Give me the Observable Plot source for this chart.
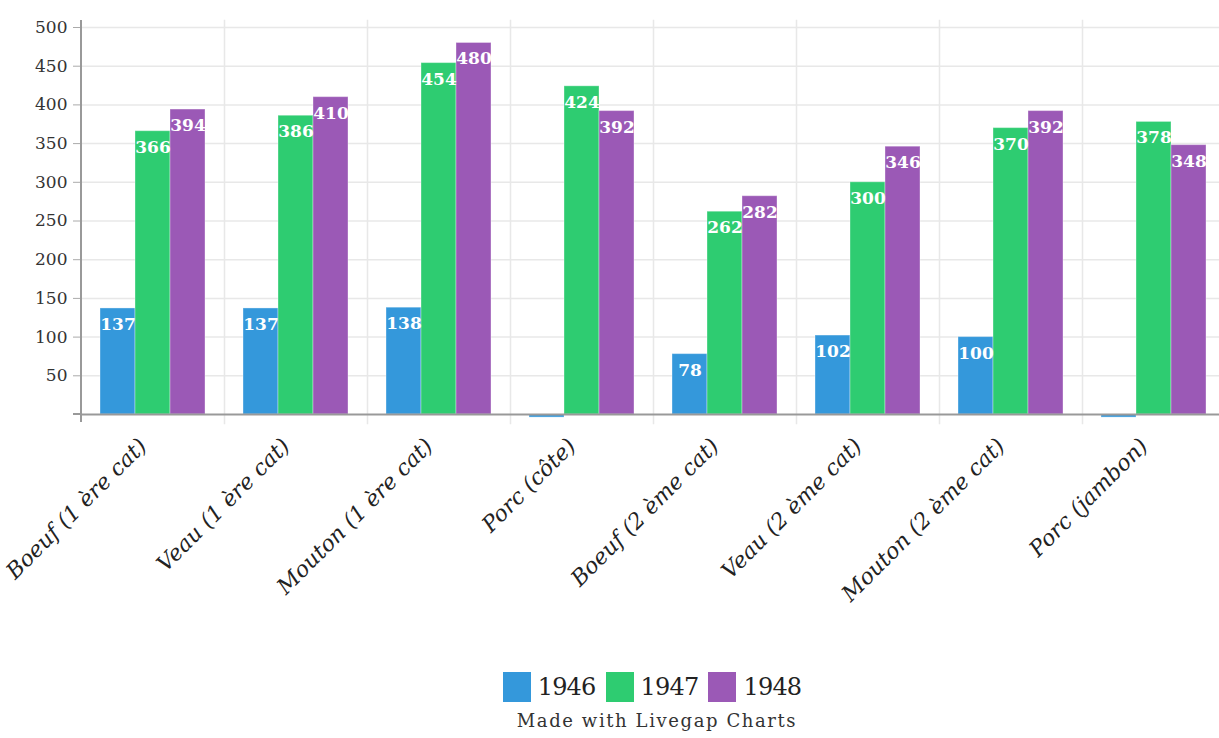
<!DOCTYPE html>
<html>
<head>
<meta charset="utf-8">
<script src="https://cdn.jsdelivr.net/npm/d3@7"></script>
<script src="https://cdn.jsdelivr.net/npm/@observablehq/plot@0.6"></script>
<style>
  body { margin: 0; background: #fff; font-family: "DejaVu Serif", serif; overflow: hidden; }
  #chart { width: 1219px; overflow: hidden; }
  .legend { display: flex; justify-content: center; align-items: center; padding-left: 95px; margin-top: 22px; gap: 0; }
  .legend .item { display: flex; align-items: center; margin-right: 10px; }
  .legend .sw { width: 28px; height: 30px; margin-right: 7px; }
  .legend .lab { font-family: "DejaVu Serif", serif; font-size: 24px; color: #222; letter-spacing: -0.8px; }
  .caption { text-align: center; padding-left: 95px; margin-top: 8px; font-family: "DejaVu Serif", serif; font-size: 18px; color: #333; letter-spacing: 1.6px; }
</style>
</head>
<body>
<div id="chart"></div>
<script>
const categories = ["Boeuf (1 ère cat)", "Veau (1 ère cat)", "Mouton (1 ère cat)", "Porc (côte)", "Boeuf (2 ème cat)", "Veau (2 ème cat)", "Mouton (2 ème cat)", "Porc (jambon)"];
const seriesNames = ["1946", "1947", "1948"];
const values1946 = [137, 137, 138, -4, 78, 102, 100, -4];
const values1947 = [366, 386, 454, 424, 262, 300, 370, 378];
const values1948 = [394, 410, 480, 392, 282, 346, 392, 348];
const colors = ["#3498db", "#2ecc71", "#9b59b6"];
const yTicks = [50, 100, 150, 200, 250, 300, 350, 400, 450, 500];

const seriesValues = [values1946, values1947, values1948];
const data = [];
categories.forEach((c, i) => {
  seriesNames.forEach((s, j) => {
    data.push({category: c, series: s, value: seriesValues[j][i]});
  });
});

const plot = Plot.plot({
  width: 1219,
  height: 650,
  marginTop: 27,
  marginBottom: 236,
  marginLeft: 81,
  marginRight: -6,
  style: {fontFamily: "DejaVu Serif, serif", background: "#fff", overflow: "hidden"},
  fx: {domain: categories, padding: 0, label: null},
  x: {domain: seriesNames, paddingInner: 0, paddingOuter: 0.52, axis: null},
  y: {domain: [0, 500], label: null},
  color: {domain: seriesNames, range: colors},
  marks: [
    Plot.gridY(yTicks, {stroke: "#e8e8e8", strokeOpacity: 1, strokeWidth: 1.5}),
    Plot.frame({anchor: "right", stroke: "#e8e8e8", strokeWidth: 1.5, insetTop: -7, insetBottom: -9}),
    Plot.barY(data, {fx: "category", x: "series", y: "value", fill: "series", stroke: "#ffffff", strokeOpacity: 0.35, strokeWidth: 1}),
    Plot.text(data.filter(d => d.value > 0), {fx: "category", x: "series", y: "value", text: d => String(d.value), fill: "white", fontWeight: "bold", fontSize: 17, dy: 16, fontFamily: "DejaVu Serif, serif"}),
    Plot.ruleY([0], {stroke: "#999", strokeWidth: 2}),
    Plot.axisY(yTicks, {tickSize: 8, tickPadding: 6, stroke: "#aaa", fill: "#333", fontSize: 17, fontWeight: "normal", label: null}),
    Plot.axisFx({anchor: "bottom", tickRotate: -45, tickSize: 0, tickPadding: 28, dx: -10, fontSize: 22, fontStyle: "italic", fill: "#222", label: null, fontFamily: "DejaVu Serif, serif"})
  ]
});

// y-axis line along the left edge, derived from the y scale
const yScale = plot.scale("y");
const svg = d3.select(plot);
const y0 = yScale.range[0], y1 = yScale.range[1];
svg.append("line")
  .attr("x1", 81).attr("x2", 81)
  .attr("y1", Math.min(y0, y1) - 7).attr("y2", Math.max(y0, y1) + 8)
  .attr("stroke", "#999").attr("stroke-width", 2);
svg.append("line")
  .attr("x1", 73).attr("x2", 81)
  .attr("y1", Math.max(y0, y1)).attr("y2", Math.max(y0, y1))
  .attr("stroke", "#999").attr("stroke-width", 2);

document.getElementById("chart").appendChild(plot);

const legend = d3.select("body").append("div").attr("class", "legend");
seriesNames.forEach((s, i) => {
  const it = legend.append("div").attr("class", "item");
  it.append("div").attr("class", "sw").style("background", colors[i]);
  it.append("span").attr("class", "lab").text(s);
});
d3.select("body").append("div").attr("class", "caption").text("Made with Livegap Charts");
</script>
</body>
</html>
